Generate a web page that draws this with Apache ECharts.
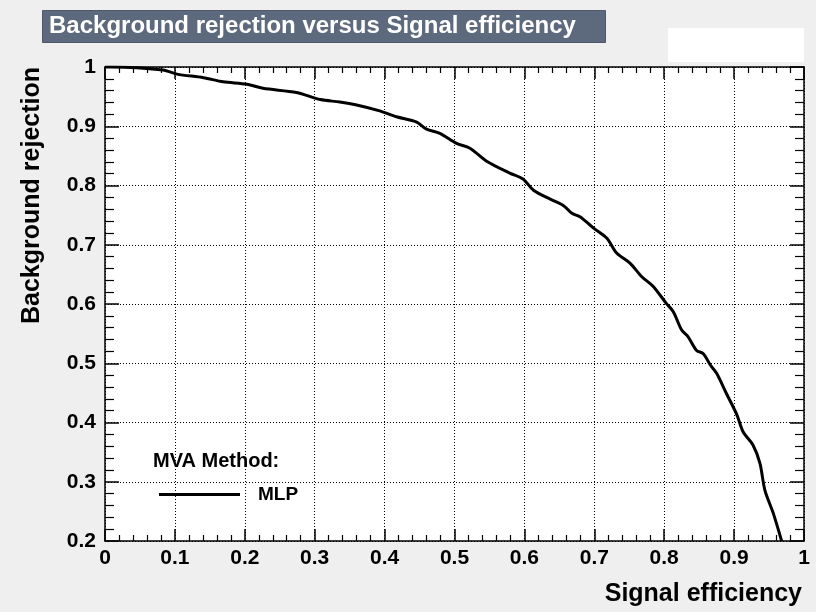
<!DOCTYPE html>
<html>
<head>
<meta charset="utf-8">
<script src="https://cdn.jsdelivr.net/npm/echarts@6/dist/echarts.min.js"></script>
<style>
  html, body { margin: 0; padding: 0; background: #efefef; }
  #chart { width: 816px; height: 612px; }
</style>
</head>
<body>
<div id="chart"></div>
<script>
// ROC curve
const sigEff = [0.0, 0.01, 0.083, 0.103, 0.141, 0.169, 0.203, 0.226, 0.274, 0.308, 0.336, 0.360, 0.393,
  0.417, 0.446, 0.460, 0.479, 0.503, 0.522, 0.546, 0.579, 0.598, 0.613, 0.637, 0.656, 0.668, 0.680,
  0.699, 0.718, 0.732, 0.751, 0.768, 0.784, 0.803, 0.813, 0.825, 0.834, 0.846, 0.856, 0.866, 0.875,
  0.889, 0.904, 0.913, 0.927, 0.937, 0.944, 0.956, 0.968]
const bkgRej = [1.0, 1.0, 0.995, 0.988, 0.982, 0.975, 0.971, 0.964, 0.957, 0.945, 0.941, 0.936, 0.926,
  0.916, 0.907, 0.895, 0.888, 0.871, 0.863, 0.841, 0.821, 0.811, 0.792, 0.777, 0.766, 0.753, 0.747,
  0.728, 0.711, 0.686, 0.669, 0.646, 0.630, 0.601, 0.587, 0.556, 0.545, 0.522, 0.516, 0.497, 0.483,
  0.449, 0.413, 0.384, 0.362, 0.331, 0.286, 0.247, 0.2]
const xTicks = [0, 0.1, 0.2, 0.3, 0.4, 0.5, 0.6, 0.7, 0.8, 0.9, 1]
const yTicks = [0.2, 0.3, 0.4, 0.5, 0.6, 0.7, 0.8, 0.9, 1]
const seriesName = 'MLP'

const font = 'Liberation Sans, Arial, sans-serif'
const labelStyle = { color: '#000', fontFamily: font, fontWeight: 'bold', fontSize: 21 }

function fmt(v) {
  return String(Math.round(v * 10) / 10)
}

function axisBase(kind, position, showLabels) {
  const ticks = kind === 'x' ? xTicks : yTicks
  return {
    type: 'value',
    position,
    min: ticks[0],
    max: ticks[ticks.length - 1],
    interval: 0.1,
    axisLine: { show: true, onZero: false, lineStyle: { color: '#000', width: 1.5 } },
    axisTick: { show: true, inside: true, length: kind === 'x' ? 12 : 14, lineStyle: { color: '#000', width: 1.5 } },
    minorTick: { show: true, splitNumber: 5, length: kind === 'x' ? 6 : 9, lineStyle: { color: '#000', width: 1.2 } },
    axisLabel: showLabels
      ? { ...labelStyle, margin: kind === 'x' ? 7 : 9, formatter: fmt, showMinLabel: true, showMaxLabel: true }
      : { show: false },
    splitLine: showLabels
      ? { show: true, lineStyle: { color: '#000', type: [1, 2], width: 1 } }
      : { show: false },
  }
}

const chart = echarts.init(document.getElementById('chart'))
chart.setOption({
  backgroundColor: '#efefef',
  animation: false,
  grid: { left: 105, right: 12, top: 67, bottom: 71, show: true, backgroundColor: '#fff', borderWidth: 0 },
  xAxis: [axisBase('x', 'bottom', true), axisBase('x', 'top', false)],
  yAxis: [axisBase('y', 'left', true), axisBase('y', 'right', false)],
  legend: {
    data: [{ name: seriesName, icon: 'rect' }],
    left: 159,
    top: 485,
    padding: 0,
    itemWidth: 81,
    itemHeight: 3,
    itemStyle: { color: '#000' },
    textStyle: { color: '#000', fontFamily: font, fontWeight: 'bold', fontSize: 19, padding: [0, 0, 0, 13] },
  },
  graphic: [
    { type: 'rect', left: 42, top: 10, shape: { width: 563, height: 32 }, style: { fill: '#5d6a7d', stroke: '#4e5a6b', lineWidth: 1 } },
    { type: 'text', x: 49, y: 26, style: { text: 'Background rejection versus Signal efficiency', fill: '#fff', font: 'bold 24px ' + font, verticalAlign: 'middle' } },
    { type: 'rect', left: 668, top: 28, shape: { width: 136, height: 34 }, style: { fill: '#fff' } },
    { type: 'text', x: 153, y: 461, style: { text: 'MVA Method:', fill: '#000', font: 'bold 20px ' + font, verticalAlign: 'middle' } },
    { type: 'text', x: 802, y: 594, style: { text: 'Signal efficiency', fill: '#000', font: 'bold 25px ' + font, align: 'right', verticalAlign: 'middle' } },
    { type: 'text', x: 32, y: 67, rotation: Math.PI / 2, style: { text: 'Background rejection', fill: '#000', font: 'bold 25px ' + font, align: 'right', verticalAlign: 'middle' } },
  ],
  series: [{
    name: seriesName,
    type: 'line',
    xAxisIndex: 0,
    yAxisIndex: 0,
    symbol: 'none',
    smooth: 0.3,
    data: sigEff.map((x, i) => [x, bkgRej[i]]),
    lineStyle: { color: '#000', width: 3 },
    itemStyle: { color: '#000' },
  }],
})
</script>
</body>
</html>
